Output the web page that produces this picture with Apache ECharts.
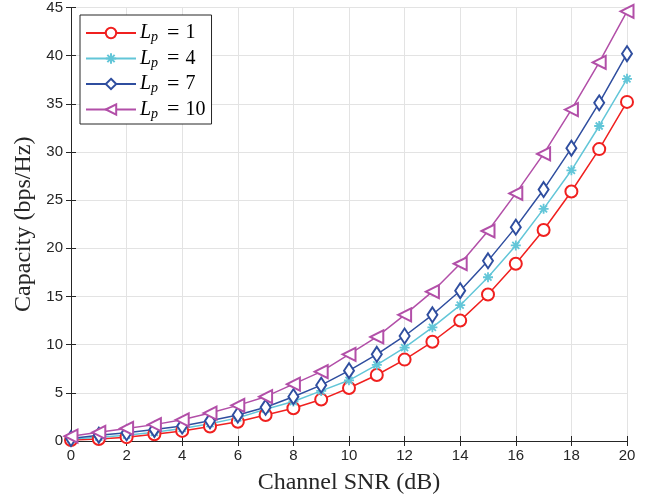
<!DOCTYPE html>
<html>
<head>
<meta charset="utf-8">
<script src="https://cdn.jsdelivr.net/npm/echarts@6/dist/echarts.min.js"></script>
<style>
html, body { margin: 0; padding: 0; background: #fff; }
#plot { width: 657px; height: 503px; }
</style>
</head>
<body>
<div id="plot"></div>
<script>
// Channel SNR (dB)
const snr = [0, 1, 2, 3, 4, 5, 6, 7, 8, 9, 10, 11, 12, 13, 14, 15, 16, 17, 18, 19, 20];
// capacity (bps/Hz) for each L_p
const lp1 = [0.1, 0.2, 0.4, 0.7, 1.05, 1.5, 2.0, 2.7, 3.4, 4.3, 5.5, 6.85, 8.45, 10.3, 12.5, 15.2, 18.4, 21.9, 25.9, 30.3, 35.2];
const lp4 = [0.2, 0.4, 0.6, 0.9, 1.3, 1.8, 2.4, 3.3, 4.1, 5.2, 6.3, 7.9, 9.7, 11.8, 14.1, 17.0, 20.3, 24.1, 28.1, 32.7, 37.6];
const lp7 = [0.25, 0.6, 0.85, 1.2, 1.55, 2.1, 2.7, 3.5, 4.6, 5.8, 7.3, 9.0, 10.9, 13.1, 15.6, 18.7, 22.2, 26.1, 30.4, 35.1, 40.2];
const lp10 = [0.5, 0.9, 1.3, 1.7, 2.2, 2.9, 3.7, 4.6, 5.9, 7.2, 9.0, 10.8, 13.1, 15.5, 18.4, 21.8, 25.7, 29.8, 34.4, 39.3, 44.6];
const names = ['1', '4', '7', '10'];

const asterisk = 'path://M0 5L10 5M5 0L5 10M1.5 1.5L8.5 8.5M1.5 8.5L8.5 1.5';

function pairs(ys) {
    return snr.map((x, i) => [x, ys[i]]);
}

function mkSeries(name, ys, color, symbol, size, extra) {
    return Object.assign({
        name: name,
        type: 'line',
        data: pairs(ys),
        symbol: symbol,
        symbolSize: size,
        showAllSymbol: true,
        lineStyle: { color: color, width: 1.5 },
        itemStyle: { color: color, borderWidth: 1.4 },
        emphasis: { disabled: true },
        animation: false
    }, extra || {});
}

const axisColor = '#262626';
const sans = 'Liberation Sans';
const serif = 'Liberation Serif';

const chart = echarts.init(document.getElementById('plot'));
chart.setOption({
    backgroundColor: '#fff',
    grid: { left: 71, right: 30, top: 6, bottom: 62, show: false },
    legend: {
        left: 80,
        top: 15,
        orient: 'vertical',
        itemWidth: 50,
        itemHeight: 13,
        itemGap: 3,
        padding: [7, 6, 3, 5],
        backgroundColor: '#fff',
        borderColor: axisColor,
        borderWidth: 1,
        data: names.map(n => ({ name: n })),
        formatter: function (n) { return '{i|L}{s|p}{e|=}{n|' + n + '}'; },
        textStyle: {
            padding: [0, 0, 0, -1],
            rich: {
                i: { fontFamily: serif, fontStyle: 'italic', fontSize: 20, color: '#000' },
                s: { fontFamily: serif, fontStyle: 'italic', fontSize: 14, color: '#000', padding: [9, 0, 0, 0] },
                e: { fontFamily: serif, fontSize: 22, color: '#000', padding: [0, 6, 0, 9] },
                n: { fontFamily: serif, fontSize: 20, color: '#000' }
            }
        }
    },
    xAxis: [{
        type: 'value',
        min: 0,
        max: 20,
        interval: 2,
        name: 'Channel SNR (dB)',
        nameLocation: 'middle',
        nameGap: 30,
        nameTextStyle: { fontFamily: serif, fontSize: 24, color: '#262626' },
        axisLine: { show: true, lineStyle: { color: axisColor, width: 1 } },
        axisTick: { show: true, inside: true, length: 5, lineStyle: { color: axisColor } },
        axisLabel: { fontFamily: sans, fontSize: 15, color: '#262626', margin: 7 },
        splitLine: { show: true, lineStyle: { color: '#e3e3e3', width: 1 } }
    }, {
        type: 'value',
        position: 'top',
        min: 0,
        max: 20,
        interval: 2,
        axisLine: { show: true, lineStyle: { color: axisColor, width: 1 } },
        axisTick: { show: true, inside: true, length: 5, lineStyle: { color: axisColor } },
        axisLabel: { show: false },
        splitLine: { show: false }
    }],
    yAxis: [{
        type: 'value',
        min: 0,
        max: 45,
        interval: 5,
        name: 'Capacity (bps/Hz)',
        nameLocation: 'middle',
        nameGap: 31,
        nameTextStyle: { fontFamily: serif, fontSize: 24, color: '#262626' },
        axisLine: { show: true, lineStyle: { color: axisColor, width: 1 } },
        axisTick: { show: true, inside: true, length: 5, lineStyle: { color: axisColor } },
        axisLabel: { fontFamily: sans, fontSize: 15, color: '#262626', margin: 8 },
        splitLine: { show: true, lineStyle: { color: '#e3e3e3', width: 1 } }
    }, {
        type: 'value',
        position: 'right',
        min: 0,
        max: 45,
        interval: 5,
        axisLine: { show: true, lineStyle: { color: axisColor, width: 1 } },
        axisTick: { show: true, inside: true, length: 5, lineStyle: { color: axisColor } },
        axisLabel: { show: false },
        splitLine: { show: false }
    }],
    series: [
        mkSeries('1', lp1, '#f0201f', 'emptyCircle', 12),
        mkSeries('4', lp4, '#62c6d8', asterisk, 10, {
            itemStyle: { color: '#62c6d8', borderColor: '#62c6d8', borderWidth: 1.8 }
        }),
        mkSeries('7', lp7, '#2f4e9f', 'emptyDiamond', [10, 15]),
        mkSeries('10', lp10, '#b24fa8', 'emptyTriangle', 13, { symbolRotate: 90 })
    ],
    animation: false
});
</script>
</body>
</html>
